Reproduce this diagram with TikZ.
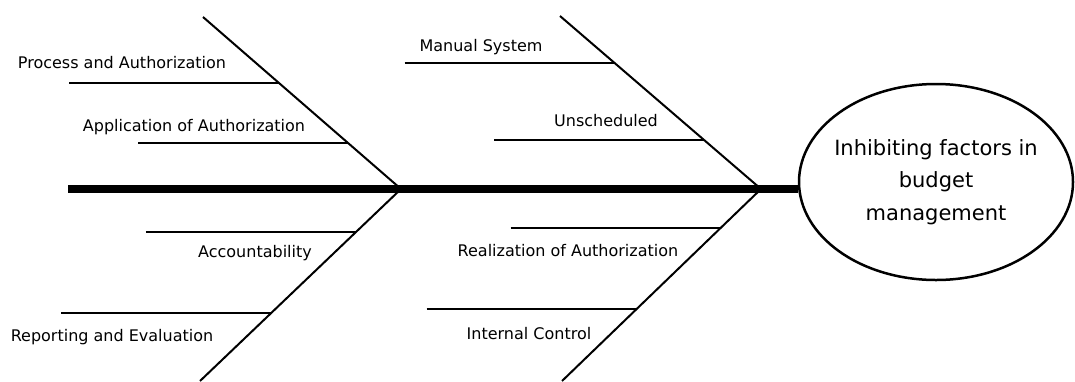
\documentclass[tikz,border=0pt]{standalone}
\usepackage{fontspec}
\setmainfont{DejaVu Sans}
\usetikzlibrary{shapes.geometric,calc}

\def\riblen{210}

\begin{document}
\begin{tikzpicture}[x=1pt,y=-1pt]
      \tikzstyle{spine}=[draw=black, line width=8pt]
      \tikzstyle{bone}=[draw=black, line width=2pt]
      \tikzstyle{rib}=[draw=black, line width=2pt]
      \tikzstyle{cause}=[font=\fontsize{16}{19}\selectfont, anchor=base, inner sep=0pt]
      \tikzstyle{effect}=[ellipse, draw=black, line width=2.5pt, minimum width=274pt,
                          minimum height=196pt, inner xsep=-8pt, inner ysep=0pt,
                          align=center, font=\fontsize{21}{32.5}\selectfont]

      \useasboundingbox (0,0) rectangle (1075,381);

      % Draw the effect (head of the fish)
      \node[effect] (E) at (936,182) {Inhibiting factors in\\budget\\management};

      % Draw the spine
      \coordinate (tail) at (68,189);
      \coordinate (J-1) at (401,189);
      \coordinate (J-2) at (761,189);
      \draw[spine] (tail) -- (tail -| E.west);

      % Draw the bones
      \coordinate (T-1) at (203,17);
      \coordinate (B-1) at (200,381);
      \coordinate (T-2) at (560,16);
      \coordinate (B-2) at (562,381);
      \foreach \j in {1,2}
          \draw[bone] (T-\j) -- (J-\j) -- (B-\j);

      % Points where the ribs meet the bones
      \coordinate (R-1) at ($(T-1)!0.384!(J-1)$);
      \coordinate (R-2) at ($(T-1)!0.733!(J-1)$);
      \coordinate (R-3) at ($(J-1)!0.224!(B-1)$);
      \coordinate (R-4) at ($(J-1)!0.646!(B-1)$);
      \coordinate (R-5) at ($(T-2)!0.272!(J-2)$);
      \coordinate (R-6) at ($(T-2)!0.717!(J-2)$);
      \coordinate (R-7) at ($(J-2)!0.203!(B-2)$);
      \coordinate (R-8) at ($(J-2)!0.625!(B-2)$);

      % Draw the ribs
      \foreach \r in {1,...,8}{
          \coordinate (L-\r) at ($(R-\r)+(-\riblen,0)$);
          \draw[rib] (L-\r) -- (R-\r);
      }

      % Annotate the causes
      \node[cause] (C-1) at (122,68) {Process and Authorization};
      \node[cause] (C-2) at (194,131) {Application of Authorization};
      \node[cause] (C-3) at (255,257) {Accountability};
      \node[cause] (C-4) at (112,341) {Reporting and Evaluation};
      \node[cause] (C-5) at (481,51) {Manual System};
      \node[cause] (C-6) at (606,126) {Unscheduled};
      \node[cause] (C-7) at (568,256) {Realization of Authorization};
      \node[cause] (C-8) at (529,339) {Internal Control};
\end{tikzpicture}
\end{document}
